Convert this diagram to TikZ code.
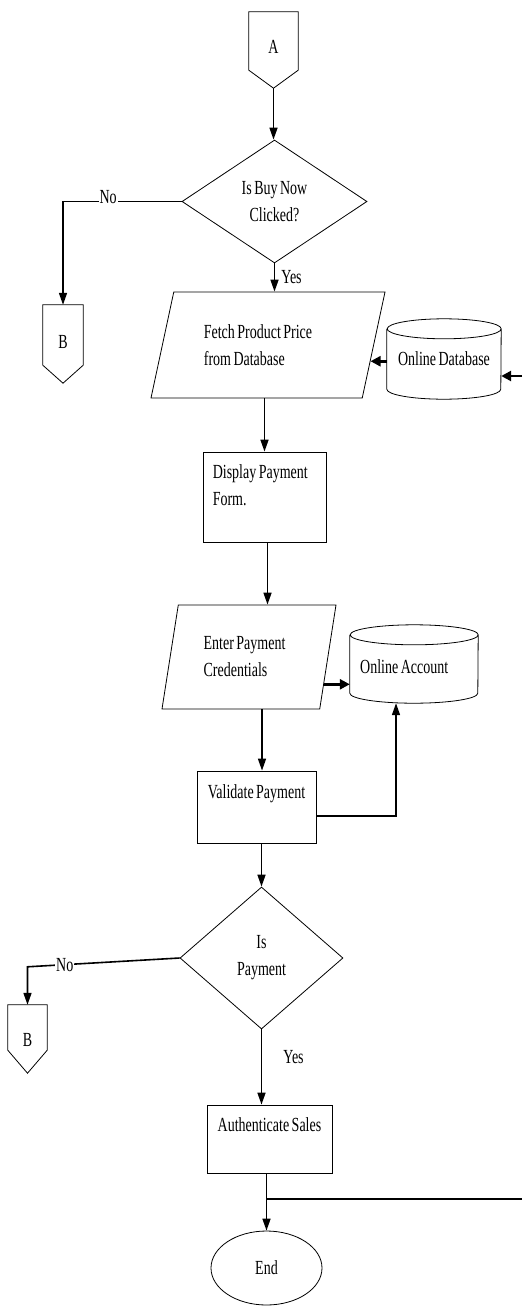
\documentclass[tikz,border=0pt]{standalone}
\usepackage{fontspec}
\setmainfont{Liberation Serif}[FakeStretch=0.70,WordSpace=0.7]
\usetikzlibrary{shapes.geometric,arrows.meta,calc}

\tikzset{
  every node/.style={font=\fontsize{20pt}{27pt}\selectfont},
  outline/.style={draw, line width=0.8pt, line join=miter},
  holder/.style={rectangle, inner sep=0pt},
  box/.style={outline, rectangle, inner sep=0pt},
  txt/.style={inner sep=0pt, align=left},
  decision/.style={outline, diamond, inner sep=0pt, align=center},
  io/.style={outline, trapezium, trapezium stretches body, inner sep=0pt, align=left},
  term/.style={outline, ellipse, inner sep=0pt},
  flow/.style={line width=1.6pt, -{Triangle[length=12pt,width=8pt]}},
  heavy/.style={line width=2.8pt, -{Triangle[length=10pt,width=10pt]}},
  plain/.style={line width=1.1pt},
  tag/.style={fill=white, inner sep=1pt},
}

\begin{document}
\begin{tikzpicture}[x=1pt,y=-1pt]
  \useasboundingbox (0,0) rectangle (522,1306);
  \fill[white] (0,0) rectangle (522,1306);

  % off-page connector A
  \node[holder, minimum width=49pt, minimum height=58pt] (A) at (273.5,41) {};
  \draw[outline] (A.north west) -- (A.south west) -- ([yshift=-18pt]A.south) coordinate (Atip)
    -- (A.south east) -- (A.north east) -- cycle;
  \node[txt] at ([yshift=-6pt]A.center) {A};

  % first decision
  \node[decision, minimum width=185pt, minimum height=123pt] (d1) at (274.5,201.5) {Is Buy Now\\Clicked?};

  % off-page connector B (upper)
  \node[holder, minimum width=40pt, minimum height=60pt] (B1) at (63,335) {};
  \draw[outline] (B1.north west) -- (B1.south west) -- ([yshift=-18pt]B1.south)
    -- (B1.south east) -- (B1.north east) -- cycle;
  \node[txt] at ([yshift=-7pt]B1.center) {B};

  % fetch price
  \node[io, trapezium left angle=61, trapezium right angle=119,
        minimum width=234pt, minimum height=106pt] (fp) at (268,345)
        {Fetch Product Price\hspace*{20pt}\\from Database};

  % online database store
  \node[holder, minimum width=114pt, minimum height=80pt] (odb) at (444,359) {Online Database};
  \draw[outline] ([yshift=-10pt]odb.north west) -- ([yshift=10pt]odb.south west)
    arc[start angle=180, end angle=360, x radius=57pt, y radius=10pt]
    -- ([yshift=-10pt]odb.north east)
    arc[start angle=0, end angle=360, x radius=57pt, y radius=10pt];

  % payment form
  \node[box, minimum width=123pt, minimum height=90pt] (dp) at (264.5,497) {};
  \node[txt, anchor=north west] at ([xshift=10pt,yshift=-13pt]dp.north west) {Display Payment\\Form.};

  % credentials input
  \node[io, trapezium left angle=68, trapezium right angle=112,
        minimum width=174pt, minimum height=104pt] (ep) at (249,657)
        {Enter Payment\hspace*{9pt}\\Credentials};

  % online account store
  \node[holder, minimum width=128pt, minimum height=78pt] (oa) at (414,664) {};
  \draw[outline] ([yshift=-10pt]oa.north west) -- ([yshift=10pt]oa.south west)
    arc[start angle=180, end angle=360, x radius=64pt, y radius=10pt]
    -- ([yshift=-10pt]oa.north east)
    arc[start angle=0, end angle=360, x radius=64pt, y radius=10pt];
  \node[txt, anchor=west] at ([xshift=-54pt,yshift=-3pt]oa.center) {Online Account};

  % validation
  \node[box, minimum width=119pt, minimum height=72pt] (vp) at (256.5,807) {};
  \node[txt, anchor=north] at ([yshift=-13.5pt]vp.north) {Validate Payment};

  % second decision
  \node[decision, minimum width=163pt, minimum height=142pt] (d2) at (261.5,958) {Is\\Payment};

  % off-page connector B (lower)
  \node[holder, minimum width=39pt, minimum height=45pt] (B2) at (27.5,1027.5) {};
  \draw[outline] (B2.north west) -- (B2.south west) -- ([yshift=-23pt]B2.south)
    -- (B2.south east) -- (B2.north east) -- cycle;
  \node[txt] at ([yshift=-12pt]B2.center) {B};

  % authentication
  \node[box, minimum width=125pt, minimum height=68pt] (as) at (269.5,1139) {};
  \node[txt, anchor=north] at ([yshift=-13pt]as.north) {Authenticate Sales};

  % terminator
  \node[term, minimum width=111pt, minimum height=74pt] (end) at (266.5,1268) {End};

  % connectors
  \draw[flow] (Atip) -- (Atip |- d1.north);
  \draw[flow] (d1.west) -| node[tag, pos=0.31, yshift=4pt] {No} (B1.north);
  \draw[flow] (d1.south) -- node[anchor=west, xshift=4pt, inner sep=2pt, pos=0.5] {Yes} (d1.south |- fp.north);
  \draw[heavy] (odb.west |- fp.-9) -- (fp.-9);
  \coordinate (feed) at (522,376);
  \draw[heavy] (feed) -- (feed -| odb.east);
  \draw[flow] (dp.north |- fp.south) -- (dp.north);
  \draw[flow] ([xshift=3pt]dp.south) -- ([xshift=3pt]dp.south |- ep.north);
  \draw[heavy] (ep.-20) -- (ep.-20 -| oa.west);
  \draw[flow] ([xshift=13pt]ep.south) -- ([xshift=13pt]ep.south |- vp.north);
  \draw[flow] ([yshift=-9pt]vp.east) -| ([xshift=-18pt]oa.south);
  \draw[flow] (d2.north |- vp.south) -- (d2.north);
  \path (B2.north) ++(0,-38) coordinate (nb2);
  \draw[flow] (d2.west) -- node[tag, pos=0.755] {No} (nb2) -- (B2.north);
  \draw[flow] (d2.south) -- node[anchor=west, xshift=19pt, inner sep=2pt, pos=0.37] {Yes} (d2.south |- as.north);
  \draw[flow] (end.north |- as.south) -- (end.north);
  \coordinate (branch) at (522,1199);
  \draw[plain] (end.north |- branch) -- (branch);
\end{tikzpicture}
\end{document}
